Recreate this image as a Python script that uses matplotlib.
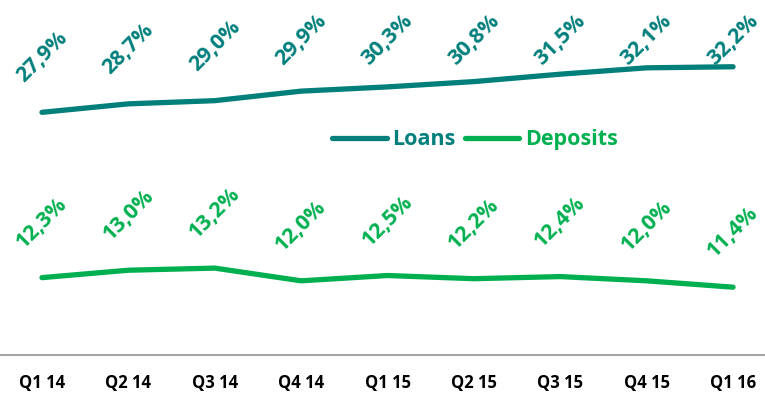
import matplotlib
matplotlib.use("Agg")
import matplotlib.pyplot as plt

quarters = ["Q1 14", "Q2 14", "Q3 14", "Q4 14", "Q1 15", "Q2 15", "Q3 15", "Q4 15", "Q1 16"]
loans = [27.9, 28.7, 29.0, 29.9, 30.3, 30.8, 31.5, 32.1, 32.2]
deposits = [12.3, 13.0, 13.2, 12.0, 12.5, 12.2, 12.4, 12.0, 11.4]

TEAL = "#007F7B"
GREEN = "#00B050"
FONT = "Open Sans"

W, H = 765, 394
fig = plt.figure(figsize=(W / 100, H / 100), dpi=100)
ax = fig.add_axes([0, 1 - 355 / H, 1, 355 / H])

ymin, ymax = 5.0, 38.5
ax.set_ylim(ymin, ymax)
ax.set_xlim(-0.486, 8.37)
px_per_unit = 355 / (ymax - ymin)

x = list(range(len(quarters)))
ax.plot(x, loans, color=TEAL, lw=3.8, solid_capstyle="round", solid_joinstyle="round", label="Loans")
ax.plot(x, deposits, color=GREEN, lw=3.8, solid_capstyle="round", solid_joinstyle="round", label="Deposits")


def fmt(v):
    return f"{v:.1f}%".replace(".", ",")


# data labels: above each point, kept inside the top of the plot area
top_limit = ymax - 40 / px_per_unit
for series, color in ((loans, TEAL), (deposits, GREEN)):
    for xi, v in zip(x, series):
        ly = min(v + 55 / px_per_unit, top_limit)
        ax.text(xi, ly, fmt(v), rotation=45, rotation_mode="anchor",
                ha="center", va="center", color=color, fontsize=15.5,
                fontweight="bold", family=FONT)

ax.set_xticks(x)
ax.set_xticklabels(quarters, fontsize=12, fontweight="bold", family=FONT, color="#000000")
ax.tick_params(axis="x", length=0, pad=14)
ax.set_yticks([])
for side in ("left", "right", "top"):
    ax.spines[side].set_visible(False)
ax.spines["bottom"].set_color("#A6A6A6")
ax.spines["bottom"].set_linewidth(1.5)

leg = ax.legend(loc="center", bbox_to_anchor=(475 / W, 1 - 140 / H), bbox_transform=fig.transFigure,
                ncol=2, frameon=False, handlelength=2.55, handletextpad=0.25, columnspacing=0.4,
                prop={"family": FONT, "weight": "bold", "size": 15.5})
for txt, color in zip(leg.get_texts(), (TEAL, GREEN)):
    txt.set_color(color)

fig.savefig("out.png", dpi=100)
